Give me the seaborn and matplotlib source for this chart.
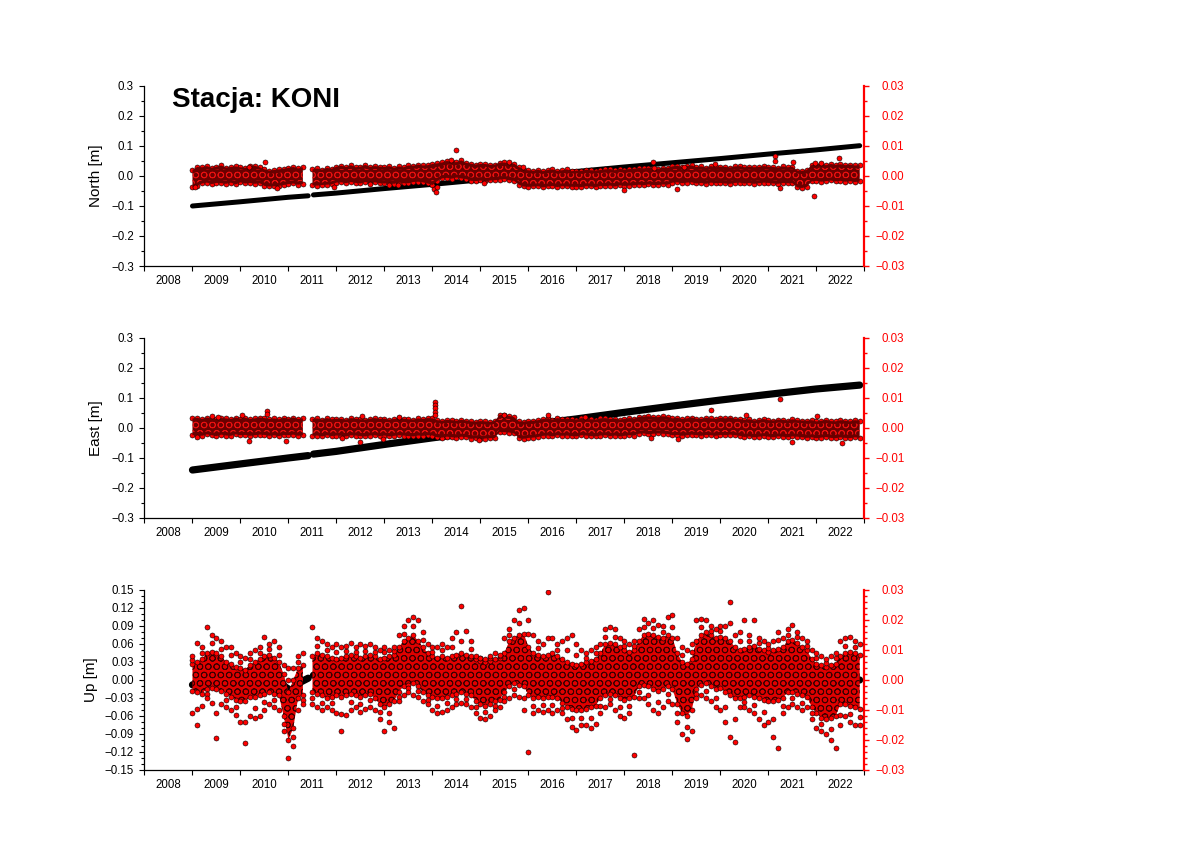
import numpy as np
import pandas as pd
import matplotlib
matplotlib.use("Agg")
import matplotlib.pyplot as plt
import seaborn as sns
from matplotlib.ticker import FixedLocator, FixedFormatter, MultipleLocator, NullFormatter

nan = np.nan

# ---------------- data ----------------
title = "Stacja: KONI"
year_ticks = list(range(2008, 2024))
year_labels = [str(y) for y in range(2008, 2023)]

# residual time bins (decimal years): start, step, count
bin_start = 2009.01
bin_step = 0.1
n_bins = 140

# black series: station position [m] (left axis)
north_pos_t = [2009.01, 2010.0, 2011.0, 2011.42, nan, 2011.53, 2012.0, 2013.0, 2014.0, 2015.0,
               2016.0, 2017.0, 2018.0, 2019.0, 2020.0, 2021.0, 2022.0, 2022.91]
north_pos = [-0.100, -0.086, -0.071, -0.066, nan, -0.063, -0.057, -0.042, -0.028, -0.013,
             0.001, 0.015, 0.030, 0.044, 0.058, 0.073, 0.087, 0.101]
east_pos_t = north_pos_t
east_pos = [-0.140, -0.120, -0.100, -0.092, nan, -0.087, -0.078, -0.055, -0.033, -0.012,
            0.010, 0.030, 0.052, 0.073, 0.093, 0.112, 0.130, 0.143]
up_pos_t = [2009.01, 2009.3, 2009.8, 2010.1, 2010.5, 2010.85, 2010.95, 2011.07, 2011.15, 2011.25,
            2011.42, nan, 2011.53, 2012.0, 2012.5, 2013.0, 2013.66, 2014.0, 2014.5, 2015.0,
            2015.33, 2015.6, 2016.0, 2016.5, 2017.0, 2017.5, 2018.0, 2018.6, 2019.2, 2019.5,
            2019.87, 2020.3, 2020.66, 2021.0, 2021.5, 2022.0, 2022.23, 2022.5, 2022.91]
up_pos = [-0.008, -0.002, 0.000, 0.004, 0.000, -0.004, -0.012, -0.018, -0.014, -0.004,
          0.003, nan, 0.008, 0.004, 0.000, 0.002, 0.012, 0.005, 0.000, 0.004,
          0.008, 0.002, 0.000, -0.004, 0.000, -0.004, 0.002, 0.004, 0.012, 0.003,
          -0.005, 0.002, 0.005, 0.000, 0.003, 0.000, -0.004, -0.002, 0.000]

# red series: residuals (right axis), per time bin, in units of 0.1 mm
north_res_hi = [8, 14, 20, 22, 19, 21, 23, 20, 18, 21, 22, 19, 20, 23, 21, 12, 9, 8, 10, 13,
                17, 19, 16, 18, nan, 12, 14, 13, 15, 16, 21, 23, 22, 24, 20, 22, 25, 21, 23, 22,
                20, 22, 19, 21, 20, 23, 24, 27, 26, 25, 28, 30, 34, 38, 37, 36, 39, 35, 30, 28,
                29, 31, 27, 29, 34, 33, 31, 30, 18, 10, 9, 8, 10, 7, 9, 11, 8, 9, 10, 8,
                9, 7, 10, 9, 8, 10, 11, 12, 10, 13, 11, 12, 13, 16, 15, 17, 16, 15, 17, 16,
                22, 23, 21, 22, 24, 20, 21, 19, 22, 20, 21, 20, 19, 21, 22, 20, 21, 19, 20, 22,
                21, 20, 19, 21, 20, 21, 8, 6, 9, 26, 27, 28, 26, 29, 27, 28, 26, 27, 25, 26]
north_res_lo = [-28, -22, -14, -13, -16, -12, -14, -15, -13, -16, -12, -14, -13, -15, -14, -22, -24, -25, -23, -20,
                -16, -15, -18, -16, nan, -21, -20, -22, -19, -18, -12, -11, -13, -10, -12, -14, -11, -12, -10, -13,
                -14, -13, -15, -12, -14, -13, -10, -9, -11, -14, -18, -6, 3, 4, 2, 5, 3, 1, -5, -6,
                -4, -7, -5, -3, -1, 0, -3, -5, -18, -24, -25, -26, -24, -27, -25, -23, -26, -25, -24, -26,
                -25, -27, -24, -25, -26, -24, -23, -22, -24, -21, -23, -22, -21, -19, -20, -18, -19, -20, -18, -19,
                -12, -11, -13, -12, -11, -14, -13, -15, -12, -14, -13, -14, -15, -13, -12, -14, -13, -15, -14, -12,
                -13, -14, -15, -13, -14, -13, -27, -29, -26, -7, -6, -8, -7, -5, -7, -6, -8, -7, -9, -8]
north_res_top = [20, 30, 29, 33, 27, 31, 35, 28, 30, 32, 29, 27, 33, 34, 29, 22, 18, 20, 22, 24,
                 27, 30, 25, 29, nan, 22, 25, 21, 27, 24, 31, 34, 30, 36, 29, 31, 37, 30, 33, 31,
                 30, 33, 27, 32, 29, 35, 34, 38, 35, 36, 40, 42, 45, 50, 47, 46, 52, 44, 41, 38,
                 40, 40, 37, 38, 44, 45, 40, 41, 30, 21, 19, 17, 21, 16, 20, 22, 17, 19, 22, 16,
                 18, 17, 21, 19, 18, 20, 22, 23, 19, 24, 21, 23, 24, 27, 25, 28, 26, 24, 28, 27,
                 32, 34, 30, 33, 35, 30, 32, 28, 33, 29, 31, 30, 28, 32, 33, 29, 31, 29, 30, 33,
                 31, 30, 28, 32, 29, 31, 18, 17, 20, 37, 38, 40, 36, 40, 37, 39, 36, 38, 35, 36]
north_res_bot = [-38, -33, -25, -22, -27, -23, -24, -26, -22, -28, -21, -25, -23, -26, -24, -33, -35, -34, -33, -30,
                 -27, -25, -29, -26, nan, -31, -32, -30, -29, -28, -22, -21, -24, -20, -23, -25, -20, -23, -21, -24,
                 -25, -23, -26, -22, -24, -24, -20, -19, -21, -25, -30, -17, -8, -6, -9, -5, -8, -10, -16, -17,
                 -15, -18, -15, -14, -12, -10, -14, -16, -29, -35, -36, -35, -34, -38, -35, -33, -37, -34, -35, -36,
                 -36, -37, -34, -35, -37, -33, -34, -32, -35, -31, -33, -32, -31, -29, -31, -28, -30, -30, -28, -29,
                 -22, -21, -24, -22, -21, -25, -23, -26, -22, -24, -23, -25, -26, -23, -22, -25, -23, -26, -24, -22,
                 -23, -25, -26, -23, -24, -24, -38, -40, -36, -18, -16, -19, -17, -15, -18, -16, -19, -17, -20, -18]
north_out_t = [2009.07, 2010.18, 2010.53, 2010.77, 2011.95, 2012.7, 2013.1, 2013.3, 2014.05, 2014.08,
               2014.1, 2014.39, 2014.51, 2015.08, 2015.6, 2015.89, 2018.0, 2018.6, 2018.62, 2019.1,
               2019.26, 2019.9, 2021.14, 2021.15, 2021.25, 2021.53, 2021.95, 2021.97, 2022.1, 2022.47]
north_out_v = [-36, 31, 48, -39, -36, -28, -30, -31, -45, -55,
               -38, 53, 87, -24, 48, 31, -47, 46, 28, -43,
               31, 39, 68, 50, -39, 46, -67, 42, 42, 59]

east_res_hi = [22, 23, 21, 24, 22, 20, 23, 22, 21, 24, 22, 23, 21, 22, 24, 23, 21, 22, 20, 23,
               22, 24, 21, 22, nan, 20, 21, 19, 22, 20, 21, 20, 19, 22, 21, 20, 19, 21, 22, 20,
               21, 19, 20, 22, 21, 20, 19, 21, 20, 22, 22, 16, 15, 17, 16, 15, 17, 16, 12, 11,
               13, 12, 11, 14, 33, 32, 30, 26, 12, 11, 13, 14, 16, 20, 21, 19, 22, 20, 21, 20,
               19, 22, 21, 20, 19, 21, 22, 20, 21, 19, 20, 22, 21, 26, 27, 28, 27, 26, 28, 27,
               22, 23, 21, 22, 24, 22, 21, 23, 22, 21, 23, 22, 24, 22, 21, 17, 18, 16, 17, 19,
               17, 16, 18, 17, 16, 18, 17, 16, 14, 15, 13, 14, 16, 14, 13, 15, 14, 13, 15, 14]
east_res_lo = [-14, -13, -15, -12, -14, -16, -13, -14, -15, -12, -14, -13, -15, -14, -12, -13, -15, -14, -16, -13,
               -14, -12, -15, -14, nan, -16, -15, -17, -14, -16, -15, -16, -17, -14, -15, -16, -17, -15, -14, -16,
               -15, -17, -16, -14, -15, -16, -17, -15, -16, -14, -15, -20, -21, -19, -20, -21, -19, -20, -25, -24,
               -26, -25, -24, -23, -3, -4, -5, -8, -24, -25, -23, -22, -20, -16, -15, -17, -14, -16, -15, -16,
               -17, -14, -15, -16, -17, -15, -14, -16, -15, -17, -16, -14, -15, -9, -8, -10, -9, -8, -9, -10,
               -14, -13, -15, -14, -12, -14, -15, -13, -14, -15, -13, -14, -12, -14, -15, -19, -18, -20, -19, -17,
               -19, -20, -18, -19, -20, -18, -19, -20, -22, -21, -23, -22, -20, -22, -23, -21, -22, -23, -21, -22]
east_res_top = [32, 34, 30, 35, 31, 30, 33, 32, 30, 35, 31, 34, 30, 32, 35, 33, 30, 32, 29, 34,
                31, 35, 30, 32, nan, 30, 32, 28, 33, 29, 31, 30, 28, 33, 31, 29, 28, 31, 33, 30,
                31, 28, 30, 33, 31, 29, 28, 32, 30, 33, 32, 26, 24, 27, 26, 24, 27, 25, 22, 21,
                23, 22, 20, 24, 44, 43, 40, 36, 22, 21, 23, 24, 26, 30, 32, 28, 33, 30, 31, 30,
                28, 33, 31, 29, 28, 32, 33, 30, 31, 28, 30, 33, 31, 37, 38, 39, 37, 36, 39, 37,
                32, 34, 30, 32, 35, 31, 30, 34, 32, 30, 34, 32, 35, 31, 30, 27, 29, 25, 27, 30,
                26, 25, 28, 27, 25, 29, 26, 25, 24, 26, 22, 24, 27, 23, 22, 26, 24, 22, 26, 24]
east_res_bot = [-24, -23, -26, -21, -24, -27, -22, -25, -26, -21, -24, -23, -26, -24, -22, -23, -26, -24, -27, -23,
                -24, -22, -26, -24, nan, -26, -25, -28, -24, -27, -25, -26, -28, -24, -25, -27, -28, -25, -24, -27,
                -25, -28, -26, -24, -25, -27, -28, -25, -26, -24, -25, -31, -32, -29, -31, -32, -29, -30, -36, -34,
                -37, -35, -34, -33, -13, -14, -15, -18, -34, -36, -33, -32, -30, -26, -25, -28, -24, -26, -25, -27,
                -28, -24, -25, -27, -28, -25, -24, -27, -25, -28, -26, -24, -25, -19, -18, -21, -19, -18, -19, -20,
                -24, -23, -26, -24, -22, -24, -26, -23, -24, -26, -23, -24, -22, -24, -26, -30, -28, -31, -29, -27,
                -29, -31, -28, -29, -31, -28, -29, -31, -33, -31, -34, -32, -30, -33, -34, -31, -33, -34, -31, -33]
east_out_t = [2009.10, 2009.41, 2009.55, 2010.04, 2010.18, 2010.56, 2010.57, 2010.95, 2012.13, 2012.51,
              2012.55, 2012.97, 2013.31, 2014.07, 2014.07, 2014.07, 2014.07, 2014.07, 2014.98, 2015.51,
              2016.41, 2017.18, 2018.57, 2019.13, 2019.82, 2020.55, 2021.25, 2021.49, 2022.02, 2022.54]
east_out_v = [-29, 40, 38, 43, -43, 58, 47, -42, -34, -46,
              40, -38, 38, 88, 77, 66, 54, 43, -40, 43,
              43, 38, -34, -38, 60, 43, 96, -46, 40, -51]

up_res_hi = [55, 60, 70, 90, 95, 90, 80, 60, 55, 45,
             40, 35, 50, 60, 70, 80, 85, 75, 60, 20,
             -40, 0, 40, 50, nan, 80, 90, 85, 80, 75,
             70, 75, 80, 85, 80, 75, 80, 85, 80, 70,
             75, 80, 85, 110, 130, 140, 150, 130, 110, 90,
             80, 75, 80, 75, 80, 85, 90, 85, 80, 70,
             65, 60, 65, 70, 75, 90, 130, 140, 150, 155,
             110, 90, 85, 80, 85, 90, 80, 70, 60, 55,
             50, 55, 60, 65, 70, 90, 120, 125, 120, 110,
             100, 95, 100, 130, 150, 155, 150, 145, 140, 150,
             140, 90, 60, 55, 70, 130, 150, 160, 150, 140,
             145, 140, 130, 110, 100, 105, 110, 115, 105, 100,
             95, 100, 105, 110, 130, 135, 125, 110, 100, 70,
             55, 50, 45, 50, 55, 80, 90, 95, 90, 85]
up_res_lo = [-35, -40, -45, -30, -25, -30, -35, -45, -55, -65,
             -70, -70, -55, -55, -50, -45, -40, -45, -50, -120,
             -200, -160, -60, -50, nan, -40, -45, -50, -60, -55,
             -50, -55, -50, -45, -50, -55, -50, -45, -60, -80,
             -90, -80, -70, -40, -20, -15, -10, -20, -40, -50,
             -55, -60, -60, -55, -50, -45, -40, -45, -50, -70,
             -80, -85, -80, -70, -65, -40, -20, -10, -15, -20,
             -50, -60, -55, -60, -55, -55, -60, -75, -90, -95,
             -100, -100, -95, -90, -85, -60, -50, -45, -50, -60,
             -65, -60, -55, -20, -15, -20, -30, -35, -30, -20,
             -30, -80, -110, -120, -100, -30, -15, -10, -20, -30,
             -25, -40, -50, -60, -60, -55, -50, -55, -60, -65,
             -70, -70, -65, -60, -40, -40, -45, -50, -55, -90,
             -110, -125, -130, -125, -120, -80, -80, -85, -90, -95]
up_res_top = [80, 122, 110, 176, 150, 140, 130, 110, 111, 90,
              80, 75, 90, 100, 110, 144, 120, 130, 110, 50,
              40, 40, 80, 90, nan, 178, 140, 130, 120, 110,
              120, 110, 115, 125, 110, 120, 115, 120, 110, 100,
              110, 100, 110, 150, 180, 200, 211, 200, 160, 120,
              110, 110, 120, 110, 140, 160, 246, 165, 130, 80,
              75, 70, 80, 90, 85, 140, 170, 200, 233, 239,
              200, 150, 130, 120, 292, 140, 120, 130, 140, 150,
              120, 100, 90, 100, 110, 120, 170, 178, 170, 140,
              130, 120, 130, 170, 205, 190, 200, 185, 180, 210,
              217, 140, 110, 100, 120, 200, 205, 200, 180, 170,
              180, 180, 259, 150, 160, 200, 150, 200, 140, 130,
              120, 130, 161, 140, 170, 183, 160, 140, 130, 100,
              90, 80, 70, 80, 90, 130, 140, 144, 130, 120]
up_res_bot = [-110, -150, -85, -60, -75, -194, -80, -90, -100, -117,
              -140, -211, -120, -128, -120, -100, -80, -90, -100, -170,
              -261, -220, -100, -80, nan, -80, -90, -100, -90, -100,
              -110, -170, -115, -100, -90, -105, -95, -90, -100, -130,
              -170, -140, -160, -70, -50, -40, -50, -55, -70, -80,
              -100, -110, -105, -100, -90, -80, -75, -80, -90, -110,
              -125, -130, -120, -100, -90, -70, -60, -50, -55, -100,
              -239, -110, -100, -105, -100, -110, -100, -110, -130, -155,
              -165, -150, -150, -160, -145, -110, -90, -80, -100, -120,
              -128, -110, -250, -60, -60, -80, -100, -110, -90, -70,
              -80, -140, -180, -195, -170, -60, -50, -60, -70, -90,
              -100, -140, -190, -205, -90, -90, -100, -110, -130, -150,
              -140, -190, -228, -110, -90, -80, -90, -100, -90, -130,
              -160, -170, -180, -200, -228, -150, -120, -140, -150, -150]
up_res_mid = [68, -95, 90, -45, 122, -110, 105, -68, 83, -90,
              60, -140, 70, -92, 90, -72, 102, -68, 85, -145,
              0, -190, 60, -65, nan, -60, 115, -75, 100, -78,
              95, -112, 98, -72, 95, -80, 98, -68, 95, -105,
              92, -110, 98, -55, 155, -28, 180, -38, 135, -65,
              95, -85, 100, -78, 110, -62, 130, -62, 105, -90,
              72, -108, 75, -85, 80, -55, 150, -30, 190, -60,
              155, -85, 108, -82, 140, -82, 100, -92, 100, -125,
              85, -125, 75, -125, 90, -85, 145, -62, 145, -90,
              115, -85, 115, -40, 178, -50, 175, -72, 160, -45,
              178, -110, 85, -158, 95, -45, 178, -35, 165, -60,
              162, -90, 190, -130, 130, -72, 130, -82, 122, -108,
              108, -130, 133, -85, 150, -60, 142, -75, 115, -110,
              72, -148, 58, -162, 72, -115, 115, -112, 110, -122]

# axis tick labels
nse_left_ticks = [-0.3, -0.2, -0.1, 0.0, 0.1, 0.2, 0.3]
nse_left_labels = ["\u22120.3", "\u22120.2", "\u22120.1", "0.0", "0.1", "0.2", "0.3"]
up_left_ticks = [-0.15, -0.12, -0.09, -0.06, -0.03, 0.0, 0.03, 0.06, 0.09, 0.12, 0.15]
up_left_labels = ["\u22120.15", "\u22120.12", "\u22120.09", "\u22120.06", "\u22120.03", "0.00",
                  "0.03", "0.06", "0.09", "0.12", "0.15"]
right_ticks = [-0.03, -0.02, -0.01, 0.0, 0.01, 0.02, 0.03]
right_labels = ["\u22120.03", "\u22120.02", "\u22120.01", "0.00", "0.01", "0.02", "0.03"]

# ---------------- style ----------------
sns.set_theme(style="ticks")
plt.rcParams["font.family"] = ["Liberation Sans", "DejaVu Sans"]
for k in ["axes.edgecolor", "xtick.color", "ytick.color", "text.color", "axes.labelcolor"]:
    plt.rcParams[k] = "black"
plt.rcParams["hatch.linewidth"] = 0.6

W, H = 1190, 842
fig = plt.figure(figsize=(W / 100, H / 100), dpi=100)
fig.patch.set_facecolor("white")

t_bins = bin_start + bin_step * np.arange(n_bins)
TICK_FS = 8.3
MARK_S = 13
RED = "#ff0000"


def px_axes(x0, y0, x1, y1):
    return fig.add_axes([x0 / W, 1 - y1 / H, (x1 - x0) / W, (y1 - y0) / H])


def red_points(ax2, t, v, z=3):
    v = np.asarray(v, dtype=float) / 1e4
    sns.scatterplot(x=np.asarray(t, dtype=float), y=v, s=MARK_S, color=RED, edgecolor="black",
                    linewidth=0.4, ax=ax2, legend=False, zorder=z)


def setup_axes(ax, ax2, ylabel, llim, lticks, llabels, lminor, rminor, ylab_x):
    ax.set_xlim(2008, 2023)
    ax.xaxis.set_major_locator(FixedLocator(year_ticks))
    ax.xaxis.set_major_formatter(NullFormatter())
    ax.xaxis.set_minor_locator(FixedLocator([y + 0.5 for y in range(2008, 2023)]))
    ax.xaxis.set_minor_formatter(FixedFormatter(year_labels))
    ax.tick_params(axis="x", which="major", direction="out", length=3.8, width=0.8)
    ax.tick_params(axis="x", which="minor", length=0, pad=6.5, labelsize=TICK_FS)
    ax.set_xlabel("")

    ax.set_ylim(*llim)
    ax.yaxis.set_major_locator(FixedLocator(lticks))
    ax.yaxis.set_major_formatter(FixedFormatter(llabels))
    ax.yaxis.set_minor_locator(MultipleLocator(lminor))
    ax.tick_params(axis="y", which="major", direction="out", length=3.8, width=0.8,
                   labelsize=TICK_FS, pad=3.5)
    ax.tick_params(axis="y", which="minor", direction="out", length=2.2, width=0.8)
    ax.set_ylabel(ylabel, fontsize=11)
    ax.yaxis.set_label_coords(ylab_x, 0.5)

    ax2.set_ylim(-0.03, 0.03)
    ax2.set_xlim(2008, 2023)
    ax2.yaxis.set_major_locator(FixedLocator(right_ticks))
    ax2.yaxis.set_major_formatter(FixedFormatter(right_labels))
    ax2.yaxis.set_minor_locator(MultipleLocator(rminor))
    ax2.tick_params(axis="y", which="major", direction="out", length=3.8, width=1.0,
                    colors=RED, labelsize=TICK_FS, pad=25.2)
    ax2.tick_params(axis="y", which="minor", direction="out", length=2.2, width=1.0, colors=RED)
    for lab in ax2.get_yticklabels():
        lab.set_ha("right")
    ax2.set_ylabel("")
    ax2.set_xlabel("")

    for sp in ["top", "right"]:
        ax.spines[sp].set_visible(False)
    for sp in ["left", "top", "bottom"]:
        ax2.spines[sp].set_visible(False)
    ax.spines["left"].set_linewidth(0.9)
    ax.spines["bottom"].set_linewidth(0.9)
    ax2.spines["right"].set_color(RED)
    ax2.spines["right"].set_linewidth(1.6)


def black_series(ax, pos_t, pos_v, lw):
    pv = np.asarray(pos_v, dtype=float)
    seg = np.cumsum(np.isnan(pv))
    df = pd.DataFrame({"t": pos_t, "v": pv, "seg": seg}).dropna()
    sns.lineplot(data=df, x="t", y="v", units="seg", estimator=None, sort=False,
                 color="black", lw=lw, solid_capstyle="round", ax=ax, legend=False)


def band_panel(box, pos_t, pos_v, pos_lw, hi, lo, top, bot, out_t, out_v, ylabel, ylab_x):
    """North / East: dense residual band"""
    ax = px_axes(*box)
    ax.set_facecolor("white")
    black_series(ax, pos_t, pos_v, pos_lw)
    ax2 = ax.twinx()
    red_points(ax2, t_bins, top, 1)
    red_points(ax2, t_bins, bot, 1)
    ax2.fill_between(t_bins, np.asarray(bot, dtype=float) / 1e4, np.asarray(top, dtype=float) / 1e4,
                     facecolor="#6a0000", lw=0, zorder=2)
    ax2.fill_between(t_bins, np.asarray(lo, dtype=float) / 1e4, np.asarray(hi, dtype=float) / 1e4,
                     facecolor="none", edgecolor="#e81010", hatch="OO", lw=0, zorder=2.5)
    red_points(ax2, out_t, out_v, 4)
    setup_axes(ax, ax2, ylabel, (-0.3, 0.3), nse_left_ticks, nse_left_labels, 0.05, 0.005, ylab_x)


def up_panel(box):
    ax = px_axes(*box)
    ax.set_facecolor("white")
    black_series(ax, up_pos_t, up_pos, 5.2)
    ax2 = ax.twinx()
    ax2.fill_between(t_bins, np.asarray(up_res_lo, dtype=float) / 1e4,
                     np.asarray(up_res_hi, dtype=float) / 1e4,
                     facecolor="#e00000", edgecolor="#3a0000", hatch="OO", lw=0, zorder=2)
    for s in [up_res_hi, up_res_lo, up_res_mid, up_res_top, up_res_bot]:
        red_points(ax2, t_bins, s, 3)
    setup_axes(ax, ax2, "Up [m]", (-0.15, 0.15), up_left_ticks, up_left_labels, 0.01, 0.002, -0.064)


band_panel((144, 86, 864, 266), north_pos_t, north_pos, 3.6, north_res_hi, north_res_lo,
           north_res_top, north_res_bot, north_out_t, north_out_v, "North [m]", -0.057)
band_panel((144, 338, 864, 518), east_pos_t, east_pos, 5.2, east_res_hi, east_res_lo,
           east_res_top, east_res_bot, east_out_t, east_out_v, "East [m]", -0.057)
up_panel((144, 590, 864, 770))

fig.text(172 / W, 1 - 107 / H, title, fontsize=20, fontweight="bold", ha="left", va="baseline")

fig.savefig("out.png", dpi=100, facecolor="white")
